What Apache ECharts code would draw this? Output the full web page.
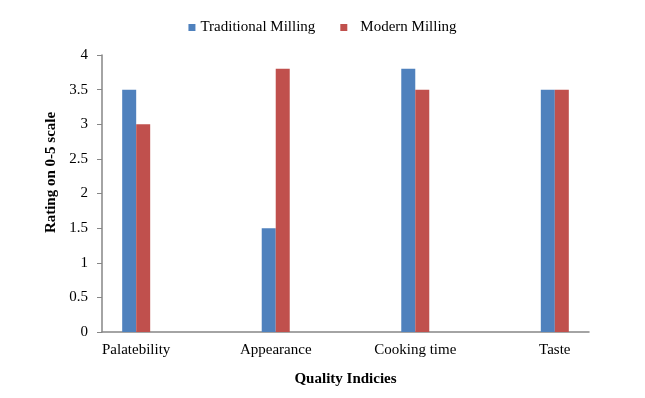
<!DOCTYPE html>
<html>
<head>
<meta charset="utf-8">
<script src="https://cdn.jsdelivr.net/npm/echarts@6/dist/echarts.min.js"></script>
<style>html,body{margin:0;padding:0;background:#fff;}#c{width:645px;height:398px;}</style>
</head>
<body>
<div id="c"></div>
<script>
const categories = ['Palatebility', 'Appearance', 'Cooking time', 'Taste'];
const traditional = [3.5, 1.5, 3.8, 3.5];
const modern = [3.0, 3.8, 3.5, 3.5];
const yTicks = [0, 0.5, 1, 1.5, 2, 2.5, 3, 3.5, 4];

const font = '"Liberation Serif", "Times New Roman", serif';
const chart = echarts.init(document.getElementById('c'));
chart.setOption({
  animation: false,
  backgroundColor: '#ffffff',
  textStyle: { fontFamily: font, color: '#000' },
  legend: {
    top: 15, left: 'center',
    itemWidth: 7, itemHeight: 7, itemGap: 25,
    icon: 'rect',
    textStyle: { fontFamily: font, fontSize: 15, color: '#000' },
    data: [
      { name: 'Traditional Milling' },
      { name: 'Modern Milling', textStyle: { padding: [0, 0, 0, 8] } }
    ]
  },
  grid: { left: 102, right: 56, top: 55, bottom: 66 },
  xAxis: {
    type: 'value',
    min: -0.245, max: 3.245,
    name: 'Quality Indicies',
    nameLocation: 'middle', nameGap: 40,
    nameTextStyle: { fontFamily: font, fontSize: 15, fontWeight: 'bold', color: '#000' },
    splitLine: { show: false },
    axisTick: { show: false },
    axisLine: { onZero: false, lineStyle: { color: '#868686', width: 1.5 } },
    axisLabel: {
      customValues: categories.map((c, i) => i),
      formatter: v => categories[Math.round(v)],
      margin: 11,
      fontFamily: font, fontSize: 15, color: '#000'
    }
  },
  yAxis: {
    type: 'value', min: 0, max: 4, interval: 0.5,
    name: 'Rating on 0-5 scale',
    nameLocation: 'middle', nameGap: 42, nameRotate: 90,
    nameTextStyle: { fontFamily: font, fontSize: 15, fontWeight: 'bold', color: '#000', padding: [0, 0, 0, 42] },
    splitLine: { show: false },
    axisLine: { show: true, onZero: false, lineStyle: { color: '#868686', width: 1.5 } },
    axisTick: { show: true, length: 5, lineStyle: { color: '#868686' } },
    axisLabel: {
      margin: 14,
      fontFamily: font, fontSize: 15, color: '#000',
      formatter: v => String(v)
    }
  },
  series: [
    {
      name: 'Traditional Milling', type: 'bar',
      data: traditional.map((v, i) => [i, v]),
      barWidth: 14, barGap: '0%',
      itemStyle: { color: '#4F81BD' }
    },
    {
      name: 'Modern Milling', type: 'bar',
      data: modern.map((v, i) => [i, v]),
      barWidth: 14, barGap: '0%',
      itemStyle: { color: '#C0504D' }
    }
  ]
});
</script>
</body>
</html>
